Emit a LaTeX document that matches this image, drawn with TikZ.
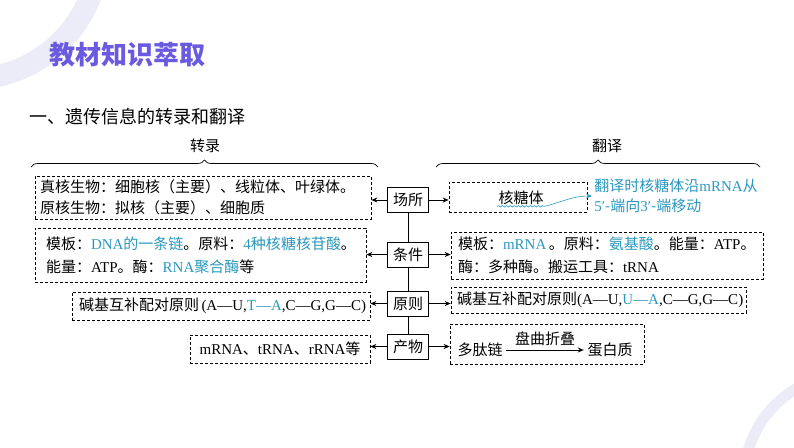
\documentclass[tikz,border=0pt]{standalone}
\usepackage{fontspec}
\setmainfont{Noto Sans CJK SC}
\newfontfamily\latfont{Liberation Serif}
\usetikzlibrary{arrows.meta,positioning,decorations.pathreplacing,decorations.pathmorphing}
\definecolor{titlePurple}{HTML}{6A5AE0}
\definecolor{keyTeal}{HTML}{2A98BE}
\definecolor{ringLilac}{HTML}{ECECF9}
\newcommand{\en}[1]{{\latfont #1}}
\newcommand{\key}[1]{{\color{keyTeal}#1}}

\begin{document}
\begin{tikzpicture}[
    x=1pt, y=-1pt,
    >={Stealth[length=6pt,width=5pt]},
    font=\fontsize{15}{23}\selectfont,
    line width=0.8pt,
    hub/.style={draw,minimum width=41pt,minimum height=25pt,inner sep=1pt},
    infobox/.style={draw,dash pattern=on 3pt off 2pt,line width=0.7pt,align=left,inner ysep=2pt},
    wavy/.style={draw=keyTeal,line width=0.6pt,decorate,decoration={snake,amplitude=0.8pt,segment length=4pt}},
    bracket/.style={decorate,decoration={brace,amplitude=7pt},line width=0.7pt}
]
    \useasboundingbox (0,0) rectangle (794,447);

    % background rings
    \begin{scope}
        \clip (0,0) rectangle (794,447);
        \draw[ringLilac,line width=22pt] (-30,-50) circle (129);
        \draw[ringLilac,line width=11pt] (850,480) circle (106);
    \end{scope}

    % headings
    \node[font=\fontsize{26}{30}\selectfont\bfseries,text=titlePurple,anchor=west] (title) at (46,55) {教材知识萃取};
    \node[font=\fontsize{18}{22}\selectfont,anchor=west] (subtitle) at (26,117) {一、遗传信息的转录和翻译};

    % braces
    \coordinate (transA) at (31,167);
    \coordinate (transB) at (378,167);
    \coordinate (translA) at (436,167);
    \coordinate (translB) at (760,167);
    \draw[bracket] (transA) -- (transB);
    \draw[bracket] (translA) -- (translB);
    \node (transLabel) at (205,146) {转录};
    \node (translLabel) at (607,146) {翻译};

    % centre column
    \node[hub] (place) at (408,200) {场所};
    \node[hub] (cond) at (408,254.5) {条件};
    \node[hub] (rule) at (408,303.5) {原则};
    \node[hub] (prod) at (408,346.5) {产物};
    \draw (place) -- (cond) -- (rule) -- (prod);

    % transcription side
    \node[infobox,minimum height=43pt,text width=326pt,inner xsep=5pt] (placeL) at (203,197.5)
        {真核生物：细胞核（主要）、线粒体、叶绿体。\\[-2pt]原核生物：拟核（主要）、细胞质};
    \node[infobox,minimum height=54pt,text width=309pt,inner xsep=11pt] (condL) at (200.5,255)
        {模板：\key{\en{DNA}的一条链}。原料：\key{\en{4}种核糖核苷酸}。\\能量：\en{ATP}。酶：\key{\en{RNA}聚合酶}等};
    \node[infobox,minimum height=28pt,text width=284pt,inner xsep=7pt] (ruleL) at (221,306)
        {\mbox{碱基互补配对原则\,\en{(A—U,\key{T—A},C—G,G—C)}}};
    \node[infobox,minimum height=28pt,minimum width=180pt,align=center] (prodL) at (280,349)
        {\en{mRNA}、\en{tRNA}、\en{rRNA}等};

    % translation side
    \node[infobox,minimum width=138pt,minimum height=30pt] (placeR) at (518,197) {};
    \node[inner sep=1pt] (ribo) at (521,198) {核糖体};
    \node[anchor=west,align=left,text=keyTeal,inner sep=2pt,font=\fontsize{15}{20}\selectfont] (note) at (592,196)
        {翻译时核糖体沿\en{mRNA}从\\\en{5′}-端向\en{3′}-端移动};
    \draw[wavy] (ribo.south west) -- (ribo.south east);
    \draw[->,keyTeal,line width=0.6pt] (ribo.south east) to[out=15,in=180] (note.west);

    \node[infobox,minimum height=47pt,text width=298pt,inner xsep=7pt] (condR) at (607,255.5)
        {模板：\key{\en{mRNA}}\,。原料：\key{氨基酸}。能量：\en{ATP}。\\酶：多种酶。搬运工具：\en{tRNA}};
    \node[infobox,minimum height=26pt,text width=283pt,inner xsep=6pt] (ruleR) at (598.5,300)
        {\mbox{碱基互补配对原则\en{(A—U,\key{U—A},C—G,G—C)}}};
    \node[infobox,minimum width=194pt,minimum height=40pt] (prodR) at (547,344) {};
    \node (peptide) at (480,350) {多肽链};
    \node (protein) at (610,350) {蛋白质};
    \draw[->] (peptide) -- node[above=1pt] {盘曲折叠} (protein);

    % arrows out of the centre column
    \foreach \hubname/\lbox/\rbox in {place/placeL/placeR,cond/condL/condR,rule/ruleL/ruleR,prod/prodL/prodR}{
        \draw[->] (\hubname.west) -- (\hubname.west -| \lbox.east);
        \draw[->] (\hubname.east) -- (\hubname.east -| \rbox.west);
    }
\end{tikzpicture}
\end{document}
